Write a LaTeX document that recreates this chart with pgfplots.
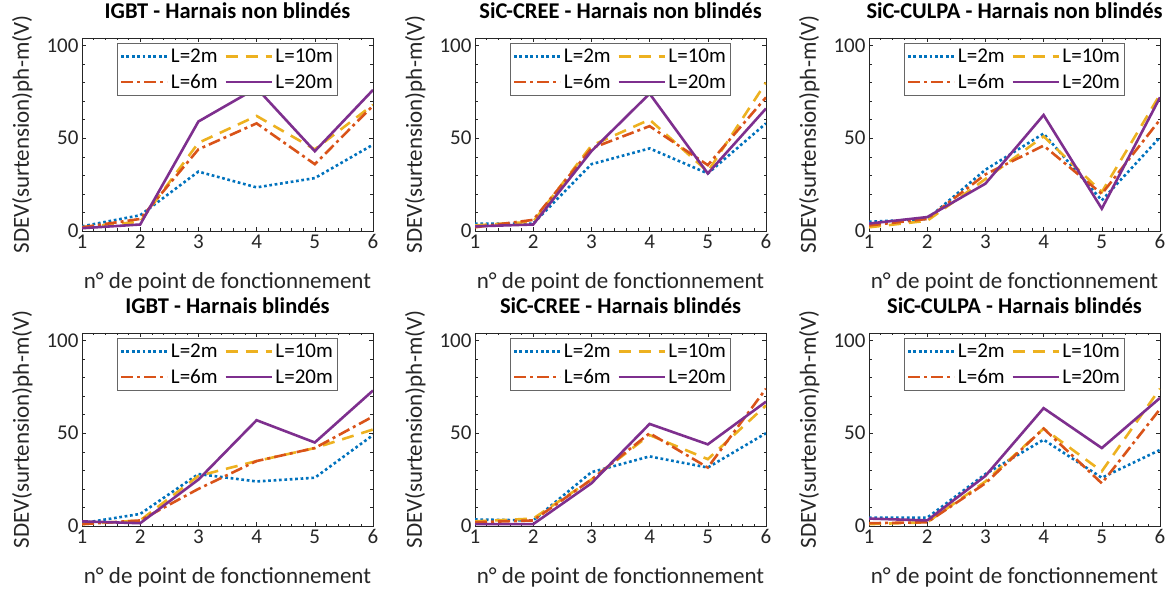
\documentclass[border=0pt]{standalone}
\usepackage{fontspec}
\setmainfont{Carlito}
\usepackage{pgfplots}
\pgfplotsset{compat=1.18}
\definecolor{mblue}{rgb}{0,0.447,0.741}
\definecolor{morange}{rgb}{0.85,0.325,0.098}
\definecolor{myellow}{rgb}{0.929,0.694,0.125}
\definecolor{mpurple}{rgb}{0.494,0.184,0.556}
\definecolor{axgray}{rgb}{0.15,0.15,0.15}
\pgfplotsset{legend image code/.code={\draw[#1] (0pt,0pt) -- (46pt,0pt);},
  legend image post style={line width=2.8pt}}
\pgfplotsset{
  panel/.style={
    scale only axis, width=291pt, height=193pt,
    xmin=1, xmax=6, ymin=0, ymax=104,
    xtick={1,2,3,4,5,6}, ytick={0,50,100},
    minor x tick num=4, minor y tick num=4,
    tick align=inside, major tick length=4pt, minor tick length=2.5pt,
    axis line style={draw=axgray, line width=0.6pt},
    every tick/.style={axgray, line width=0.5pt},
    tick label style={font=\fontsize{21}{25}\selectfont, text=axgray},
    /pgf/number format/assume math mode=true,
    xlabel={n° de point de fonctionnement},
    ylabel={SDEV(surtension)ph-m(V)},
    label style={font=\fontsize{23}{27}\selectfont, text=axgray},
    xlabel style={at={(axis description cs:0.5,-0.264)}, anchor=center},
    ylabel style={at={(axis description cs:-0.205,0.5)}, anchor=center},
    title style={font=\bfseries\fontsize{22.5}{26}\selectfont, at={(axis description cs:0.5,1.11)}, anchor=center},
    legend columns=2,
    legend cell align=left,
    legend style={at={(axis description cs:0.5,0.972)}, anchor=north, draw=black!60,
      font=\fontsize{21}{24}\selectfont, row sep=5pt, inner xsep=2pt, inner ysep=3pt,
      nodes={inner sep=2.5pt},
      /tikz/every even column/.append style={column sep=4pt}},
  },
  s2/.style={mblue, line width=2.6pt, dash pattern=on 2.7pt off 2.7pt},
  s10/.style={myellow, line width=2.6pt, dash pattern=on 12pt off 8pt},
  s6/.style={morange, line width=2.6pt, dash pattern=on 12pt off 4pt on 3pt off 4pt},
  s20/.style={mpurple, line width=2.6pt},
}
\begin{document}
\begin{tikzpicture}
\path[use as bounding box] (0,0) rectangle (1174pt,597pt);
% ---------- Top row ----------
\begin{axis}[panel, at={(82pt,366pt)}, anchor=south west, title={IGBT - Harnais non blindés}]
\addplot[s2] coordinates {(1,2.5) (2,8.5) (3,32) (4,23.5) (5,28.5) (6,46.5)};
\addplot[s10] coordinates {(1,2) (2,5) (3,47.5) (4,62) (5,44) (6,68)};
\addplot[s6] coordinates {(1,2) (2,6.5) (3,44) (4,58) (5,36) (6,67.5)};
\addplot[s20] coordinates {(1,1.5) (2,3.5) (3,59) (4,77) (5,43) (6,76)};
\legend{L=2m, L=10m, L=6m, L=20m}
\end{axis}
\begin{axis}[panel, at={(475pt,366pt)}, anchor=south west, title={SiC-CREE - Harnais non blindés}]
\addplot[s2] coordinates {(1,4) (2,4) (3,36) (4,44.5) (5,31) (6,58)};
\addplot[s10] coordinates {(1,3) (2,5) (3,46) (4,60) (5,32) (6,80)};
\addplot[s6] coordinates {(1,2) (2,6) (3,44.5) (4,56.5) (5,35.5) (6,72)};
\addplot[s20] coordinates {(1,2.5) (2,3.5) (3,43) (4,74) (5,31) (6,66)};
\legend{L=2m, L=10m, L=6m, L=20m}
\end{axis}
\begin{axis}[panel, at={(869pt,366pt)}, anchor=south west, title={SiC-CULPA - Harnais non blindés}]
\addplot[s2] coordinates {(1,5) (2,6.5) (3,33) (4,52.5) (5,16.5) (6,50.5)};
\addplot[s10] coordinates {(1,2) (2,5.5) (3,28) (4,51) (5,21) (6,73.5)};
\addplot[s6] coordinates {(1,3) (2,6.5) (3,30.5) (4,46) (5,20) (6,60)};
\addplot[s20] coordinates {(1,4) (2,7.5) (3,25.5) (4,62.5) (5,12) (6,72)};
\legend{L=2m, L=10m, L=6m, L=20m}
\end{axis}
% ---------- Bottom row ----------
\begin{axis}[panel, at={(82pt,71pt)}, anchor=south west, title={IGBT - Harnais blindés}]
\addplot[s2] coordinates {(1,1.5) (2,6.5) (3,28) (4,24) (5,26) (6,49)};
\addplot[s10] coordinates {(1,1) (2,3) (3,27) (4,35) (5,42) (6,52)};
\addplot[s6] coordinates {(1,1) (2,3) (3,20) (4,35) (5,42) (6,59)};
\addplot[s20] coordinates {(1,2.5) (2,1.5) (3,25) (4,57) (5,45) (6,73)};
\legend{L=2m, L=10m, L=6m, L=20m}
\end{axis}
\begin{axis}[panel, at={(475pt,71pt)}, anchor=south west, title={SiC-CREE - Harnais blindés}]
\addplot[s2] coordinates {(1,3.5) (2,3) (3,29) (4,37.5) (5,31.5) (6,50)};
\addplot[s10] coordinates {(1,2.5) (2,4) (3,25) (4,49) (5,36) (6,65)};
\addplot[s6] coordinates {(1,2) (2,3) (3,25) (4,50) (5,31.5) (6,74)};
\addplot[s20] coordinates {(1,1) (2,1) (3,23) (4,55) (5,44) (6,67)};
\legend{L=2m, L=10m, L=6m, L=20m}
\end{axis}
\begin{axis}[panel, at={(869pt,71pt)}, anchor=south west, title={SiC-CULPA - Harnais blindés}]
\addplot[s2] coordinates {(1,4.5) (2,4.5) (3,28) (4,46.5) (5,26) (6,41)};
\addplot[s10] coordinates {(1,1) (2,2) (3,24) (4,52.5) (5,29.5) (6,74)};
\addplot[s6] coordinates {(1,1.5) (2,2) (3,23) (4,52.5) (5,23) (6,63)};
\addplot[s20] coordinates {(1,4) (2,3) (3,27) (4,63.5) (5,42) (6,69)};
\legend{L=2m, L=10m, L=6m, L=20m}
\end{axis}
\end{tikzpicture}
\end{document}
